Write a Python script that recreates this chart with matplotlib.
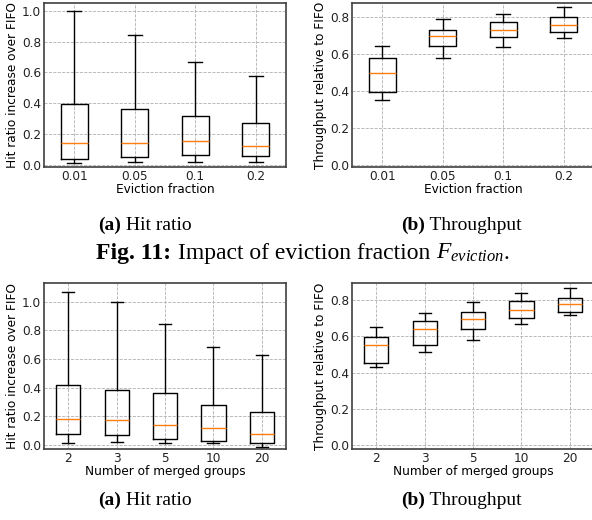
import matplotlib
matplotlib.use('Agg')
import matplotlib.pyplot as plt

# eviction fraction experiment
evict_labels = ['0.01', '0.05', '0.1', '0.2']
hit_evict_lo = [0.011, 0.019, 0.019, 0.022]
hit_evict_q1 = [0.039, 0.050, 0.065, 0.056]
hit_evict_med = [0.145, 0.140, 0.153, 0.123]
hit_evict_q3 = [0.397, 0.365, 0.320, 0.274]
hit_evict_hi = [1.000, 0.845, 0.665, 0.577]

thr_evict_lo = [0.351, 0.579, 0.638, 0.683]
thr_evict_q1 = [0.392, 0.644, 0.689, 0.718]
thr_evict_med = [0.496, 0.694, 0.727, 0.755]
thr_evict_q3 = [0.579, 0.730, 0.770, 0.800]
thr_evict_hi = [0.640, 0.786, 0.815, 0.850]

# merged groups experiment
group_labels = ['2', '3', '5', '10', '20']
hit_group_lo = [0.017, 0.018, 0.014, 0.012, -0.014]
hit_group_q1 = [0.077, 0.067, 0.042, 0.028, 0.016]
hit_group_med = [0.181, 0.172, 0.140, 0.121, 0.078]
hit_group_q3 = [0.421, 0.384, 0.360, 0.279, 0.228]
hit_group_hi = [1.070, 1.000, 0.844, 0.686, 0.626]

thr_group_lo = [0.432, 0.513, 0.579, 0.669, 0.715]
thr_group_q1 = [0.454, 0.554, 0.642, 0.703, 0.736]
thr_group_med = [0.554, 0.638, 0.693, 0.745, 0.776]
thr_group_q3 = [0.598, 0.682, 0.732, 0.795, 0.813]
thr_group_hi = [0.649, 0.726, 0.787, 0.839, 0.868]

plt.rcParams['font.family'] = 'DejaVu Sans'
plt.rcParams['mathtext.fontset'] = 'custom'
plt.rcParams['mathtext.rm'] = 'Liberation Serif'
plt.rcParams['mathtext.it'] = 'Liberation Serif:italic'
plt.rcParams['mathtext.bf'] = 'Liberation Serif:bold'

FS = 8.7
W, H = 592.0, 520.0


def make_stats(lo, q1, med, q3, hi):
    return [dict(whislo=a, q1=b, med=c, q3=d, whishi=e, fliers=[])
            for a, b, c, d, e in zip(lo, q1, med, q3, hi)]


def draw(ax, stats, labels, ylabel, xlabel, ylim, yticks):
    ax.bxp(stats, showfliers=False,
           medianprops=dict(color='#ff7f0e', linewidth=1.0),
           boxprops=dict(color='black', linewidth=1.0),
           whiskerprops=dict(color='black', linewidth=1.0),
           capprops=dict(color='black', linewidth=1.0))
    ax.set_xticks(range(1, len(labels) + 1))
    ax.set_xticklabels(labels)
    ax.set_ylim(*ylim)
    ax.set_yticks(yticks)
    ax.set_yticklabels(['%.1f' % t for t in yticks])
    ax.grid(True, color='#b0b0b0', linestyle='--', linewidth=0.6)
    ax.set_axisbelow(True)
    ax.tick_params(length=0, labelsize=FS, pad=2, colors='#222222')
    ax.set_ylabel(ylabel, fontsize=FS, labelpad=2)
    ax.set_xlabel(xlabel, fontsize=FS, labelpad=0)
    for s in ax.spines.values():
        s.set_color('#404040')
        s.set_linewidth(1.2)


def caption(fig, xc, yb, parts, size):
    # draw pieces side by side, centred on xc (pixels), baseline at yb (pixels)
    renderer = fig.canvas.get_renderer()
    texts = []
    for s, kw in parts:
        t = fig.text(0, 1 - yb / H, s, fontsize=size, family='Liberation Serif',
                     va='baseline', ha='left', **kw)
        texts.append(t)
    widths = [t.get_window_extent(renderer).width for t in texts]
    x = xc - sum(widths) / 2
    for t, w in zip(texts, widths):
        t.set_x(x / W)
        x += w


fig = plt.figure(figsize=(5.92, 5.20), dpi=100)
aw = 242 / W
ax1 = fig.add_axes([44 / W, 1 - 167 / H, aw, 164 / H])
ax2 = fig.add_axes([352 / W, 1 - 167 / H, aw, 164 / H])
ax3 = fig.add_axes([44 / W, 1 - 449 / H, aw, 166 / H])
ax4 = fig.add_axes([352 / W, 1 - 449 / H, aw, 166 / H])

draw(ax1, make_stats(hit_evict_lo, hit_evict_q1, hit_evict_med, hit_evict_q3, hit_evict_hi),
     evict_labels, 'Hit ratio increase over FIFO', 'Eviction fraction',
     (-0.013, 1.05), [0.0, 0.2, 0.4, 0.6, 0.8, 1.0])
draw(ax2, make_stats(thr_evict_lo, thr_evict_q1, thr_evict_med, thr_evict_q3, thr_evict_hi),
     evict_labels, 'Throughput relative to FIFO', 'Eviction fraction',
     (-0.011, 0.874), [0.0, 0.2, 0.4, 0.6, 0.8])
draw(ax3, make_stats(hit_group_lo, hit_group_q1, hit_group_med, hit_group_q3, hit_group_hi),
     group_labels, 'Hit ratio increase over FIFO', 'Number of merged groups',
     (-0.028, 1.13), [0.0, 0.2, 0.4, 0.6, 0.8, 1.0])
draw(ax4, make_stats(thr_group_lo, thr_group_q1, thr_group_med, thr_group_q3, thr_group_hi),
     group_labels, 'Throughput relative to FIFO', 'Number of merged groups',
     (-0.022, 0.894), [0.0, 0.2, 0.4, 0.6, 0.8])

SUB = 14
BIG = 17
bold = dict(weight='bold')
plain = dict()
for yb in (230, 505):
    caption(fig, 145, yb, [('(a)', bold), (' Hit ratio', plain)], SUB)
    caption(fig, 461, yb, [('(b)', bold), (' Throughput', plain)], SUB)
caption(fig, 303, 259, [('Fig. 11:', bold),
                        (' Impact of eviction fraction ', plain),
                        (r'$F_{eviction}$', plain),
                        ('.', plain)], BIG)

fig.savefig('out.png', dpi=100)
